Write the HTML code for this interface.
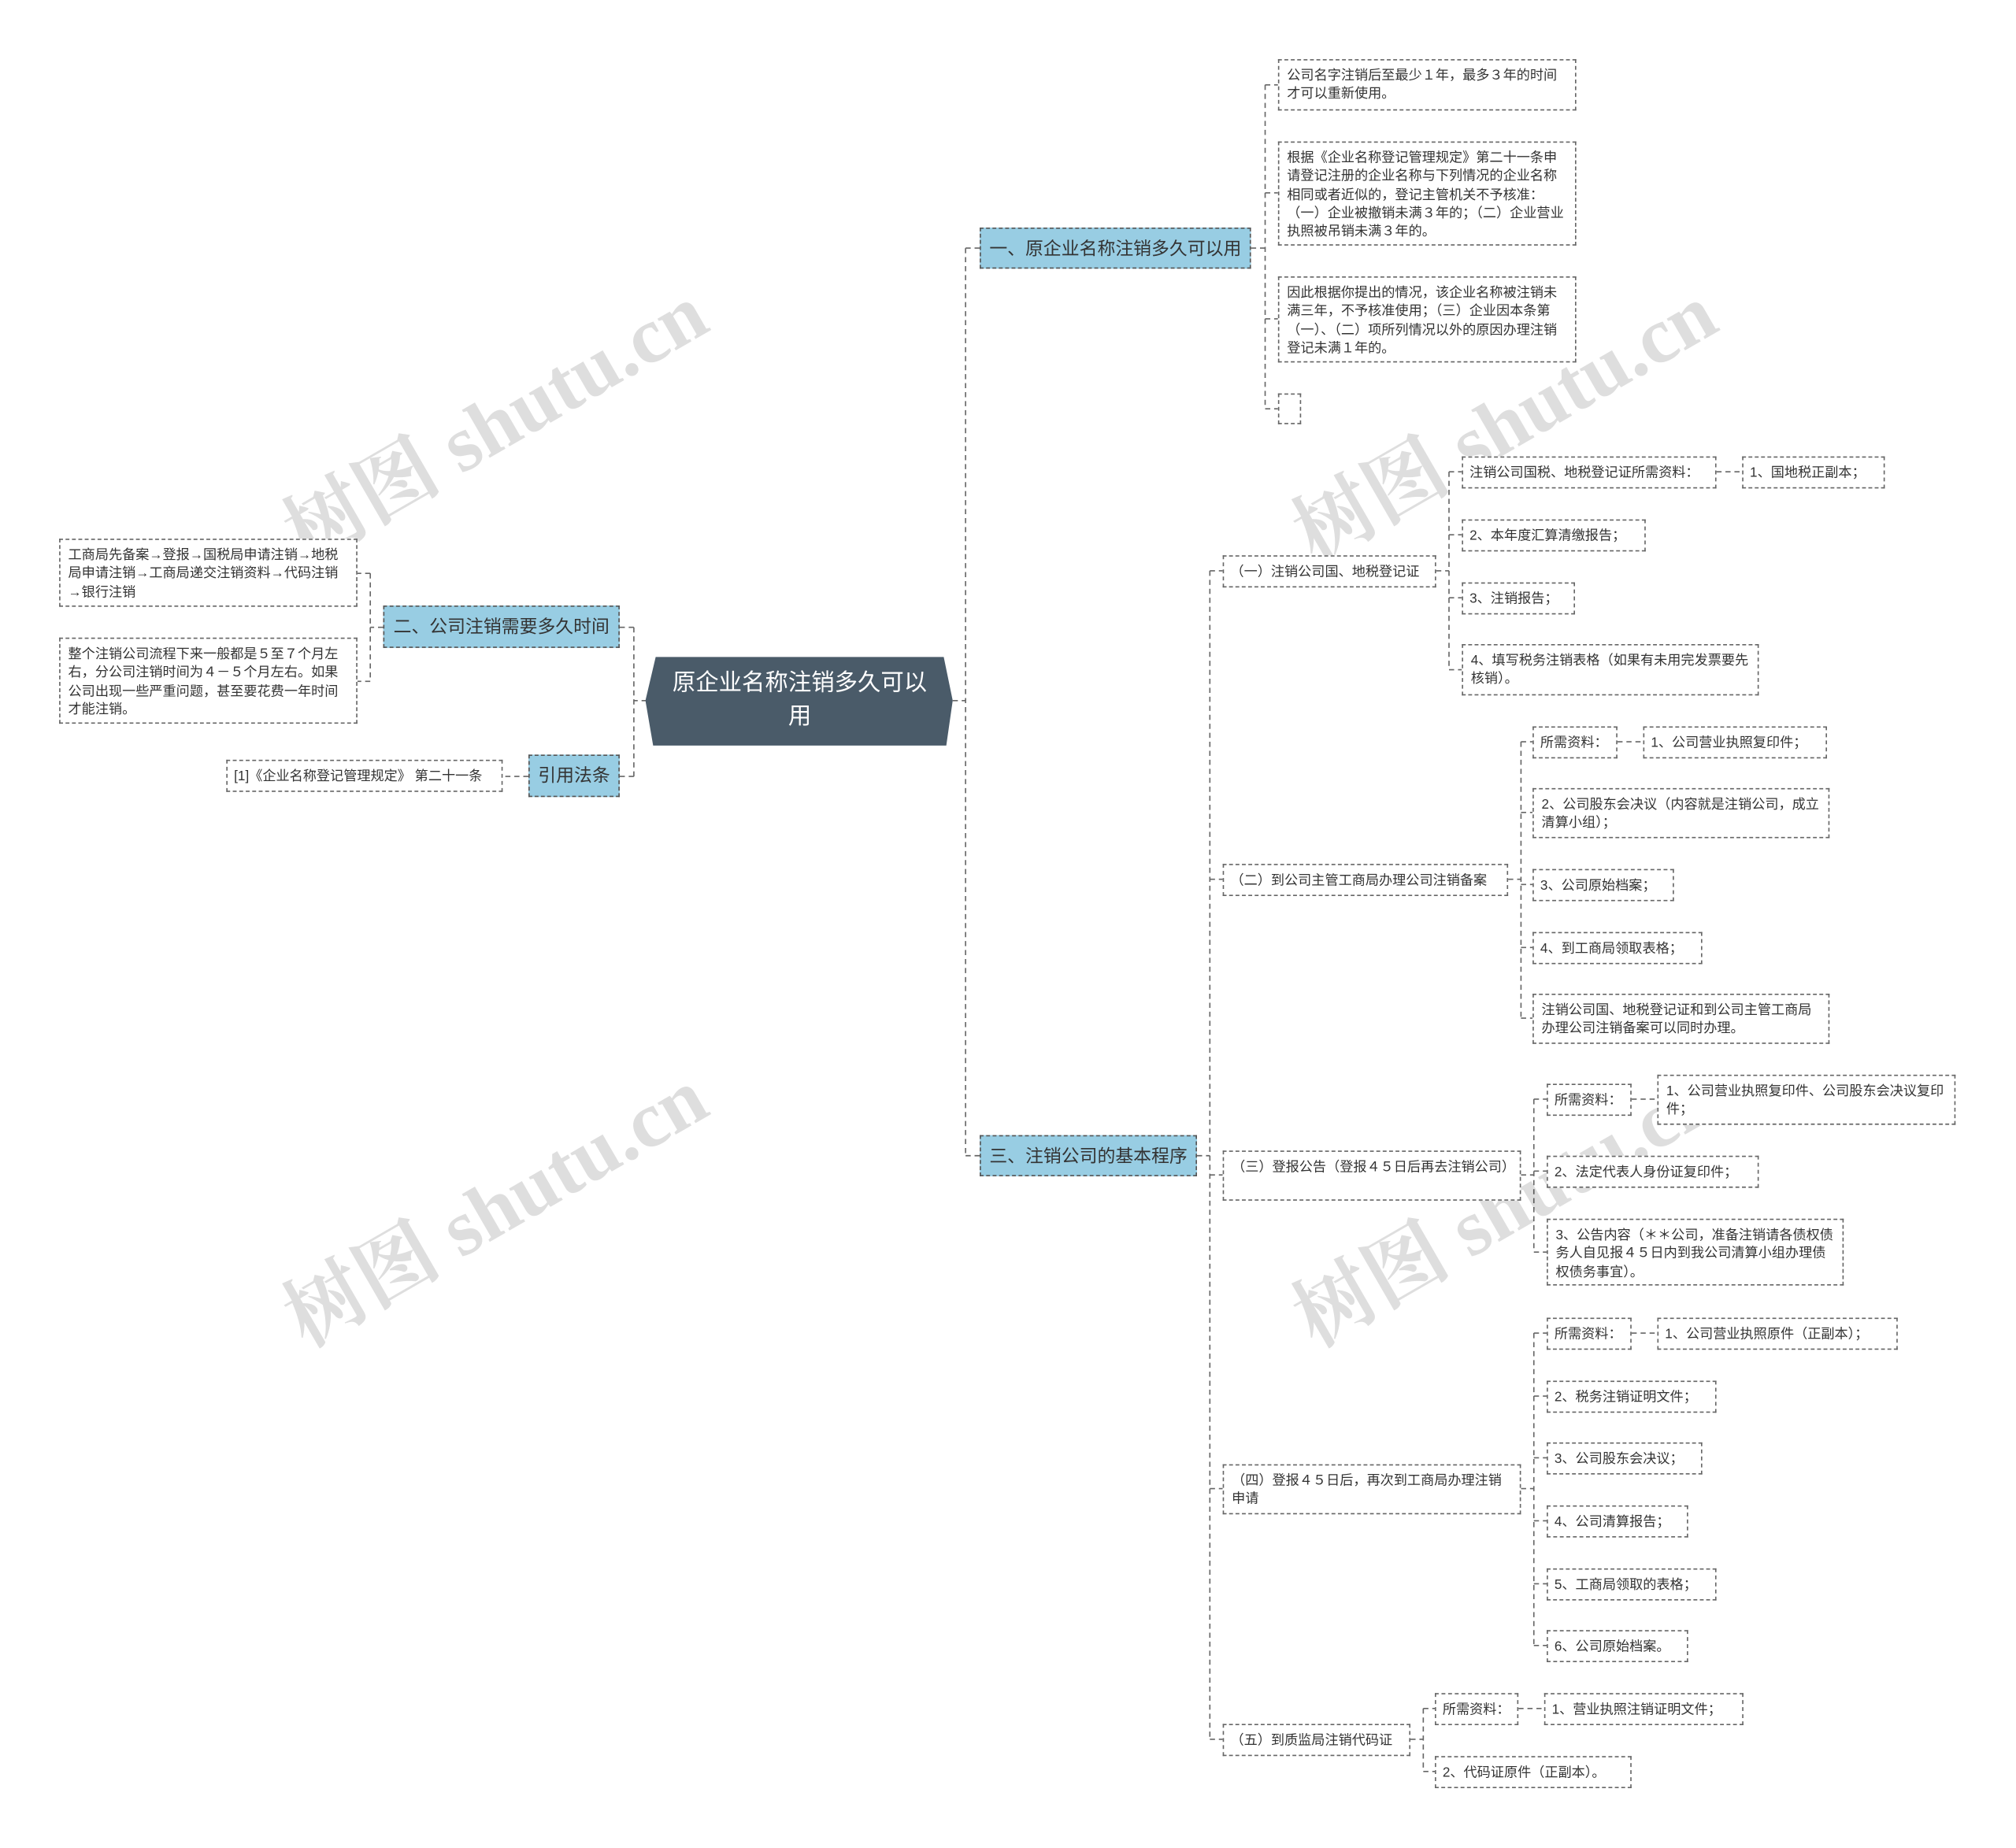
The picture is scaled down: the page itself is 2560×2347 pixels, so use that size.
<!DOCTYPE html>
<html><head><meta charset="utf-8"><style>
html,body{margin:0;padding:0;background:#fff;}
#wrap{position:relative;width:2560px;height:2347px;overflow:hidden;background:#fff;}
#s{position:absolute;left:0;top:0;width:1568px;height:1438px;transform:scale(1.63265);transform-origin:0 0;font-family:"Liberation Sans","Noto Sans CJK SC",sans-serif;}
.n{position:absolute;box-sizing:border-box;border:1px dashed #666;font-size:10.5px;line-height:14.3px;color:#333;padding:5px 6px;background:#fff;white-space:normal;overflow:hidden;}
.s1{padding:5px 5px;white-space:nowrap;}
.l1{position:absolute;box-sizing:border-box;border:1px dashed #555;background:#98cde3;color:#333;font-size:14px;line-height:30px;text-align:center;white-space:nowrap;}
.wm{position:absolute;font-family:"Liberation Serif","Noto Serif CJK SC",serif;font-size:62px;color:rgba(0,0,0,0.13);transform:rotate(-30deg);white-space:nowrap;font-weight:bold;}
</style></head><body><div id="wrap"><div id="s">
<svg width="1568" height="1438" style="position:absolute;left:0;top:0" fill="none" stroke="#666" stroke-width="1" stroke-dasharray="4,3">
<path d="M741 545H751M751 193V899M751 193H762M751 899H762"/>
<path d="M503 545H493M493 488V604M493 488H482M493 604H482"/>
<path d="M298 488H288M288 446V530M288 446H278M288 530H278"/>
<path d="M411 604H391"/>
<path d="M973 193H984M984 66V318M984 66H994M984 150H994M984 248H994M984 318H994"/>
<path d="M931 899H941M941 444V1353M941 444H951M941 684H951M941 914H951M941 1158H951M941 1353H951"/>
<path d="M1117 444H1127M1127 367V521M1127 367H1137M1127 416H1137M1127 465H1137M1127 521H1137M1335 367H1355"/>
<path d="M1173 684H1183M1183 577V792M1183 577H1192M1183 632H1192M1183 688H1192M1183 737H1192M1183 792H1192M1258 577H1278"/>
<path d="M1183 914H1193M1193 855V974M1193 855H1203M1193 911H1203M1193 974H1203M1269 855H1289"/>
<path d="M1183 1158H1193M1193 1037V1280M1193 1037H1203M1193 1086H1203M1193 1134H1203M1193 1183H1203M1193 1232H1203M1193 1280H1203M1269 1037H1289"/>
<path d="M1097 1353H1107M1107 1329V1378M1107 1329H1116M1107 1378H1116M1181 1329H1201"/>
</svg>

<div class="wm" style="left:200px;top:280px">树图 shutu.cn</div>
<div class="wm" style="left:985px;top:280px">树图 shutu.cn</div>
<div class="wm" style="left:200px;top:890px">树图 shutu.cn</div>
<div class="wm" style="left:985px;top:890px">树图 shutu.cn</div>

<svg width="240" height="70" style="position:absolute;left:502px;top:511px"><polygon points="8,0 232,0 239,34 234,69 6,69 0,34" fill="#4a5b69"/></svg>
<div style="position:absolute;left:503px;top:518px;width:238px;text-align:center;color:#fff;font-size:18px;line-height:26px">原企业名称注销多久可以<br>用</div>

<div class="l1" style="left:762px;top:177px;width:211px;height:32px">一、原企业名称注销多久可以用</div>
<div class="l1" style="left:762px;top:883px;width:169px;height:32px">三、注销公司的基本程序</div>
<div class="l1" style="left:298px;top:471px;width:184px;height:33px">二、公司注销需要多久时间</div>
<div class="l1" style="left:411px;top:587px;width:71px;height:33px">引用法条</div>

<div class="n" style="left:46px;top:419px;width:232px;height:53px">工商局先备案→登报→国税局申请注销→地税局申请注销→工商局递交注销资料→代码注销→银行注销</div>
<div class="n" style="left:46px;top:496px;width:232px;height:67px">整个注销公司流程下来一般都是５至７个月左右，分公司注销时间为４－５个月左右。如果公司出现一些严重问题，甚至要花费一年时间才能注销。</div>
<div class="n s1" style="left:176px;top:591px;width:215px;height:25px">[1]《企业名称登记管理规定》 第二十一条</div>

<div class="n" style="left:994px;top:46px;width:232px;height:40px">公司名字注销后至最少１年，最多３年的时间才可以重新使用。</div>
<div class="n" style="left:994px;top:110px;width:232px;height:81px">根据《企业名称登记管理规定》第二十一条申请登记注册的企业名称与下列情况的企业名称相同或者近似的，登记主管机关不予核准：（一）企业被撤销未满３年的；（二）企业营业执照被吊销未满３年的。</div>
<div class="n" style="left:994px;top:215px;width:232px;height:67px">因此根据你提出的情况，该企业名称被注销未满三年，不予核准使用；（三）企业因本条第（一）、（二）项所列情况以外的原因办理注销登记未满１年的。</div>
<div class="n" style="left:994px;top:306px;width:18px;height:24px"></div>

<div class="n s1" style="left:951px;top:432px;width:166px;height:25px">（一）注销公司国、地税登记证</div>
<div class="n s1" style="left:951px;top:672px;width:222px;height:25px">（二）到公司主管工商局办理公司注销备案</div>
<div class="n" style="left:951px;top:895px;width:232px;height:39px">（三）登报公告（登报４５日后再去注销公司）</div>
<div class="n" style="left:951px;top:1139px;width:232px;height:39px">（四）登报４５日后，再次到工商局办理注销申请</div>
<div class="n s1" style="left:951px;top:1341px;width:146px;height:25px">（五）到质监局注销代码证</div>

<div class="n s1" style="left:1137px;top:355px;width:198px;height:25px">注销公司国税、地税登记证所需资料：</div>
<div class="n s1" style="left:1355px;top:355px;width:111px;height:25px">1、国地税正副本；</div>
<div class="n s1" style="left:1137px;top:404px;width:143px;height:25px">2、本年度汇算清缴报告；</div>
<div class="n s1" style="left:1137px;top:453px;width:88px;height:25px">3、注销报告；</div>
<div class="n" style="left:1137px;top:501px;width:231px;height:40px">4、填写税务注销表格（如果有未用完发票要先核销）。</div>

<div class="n s1" style="left:1192px;top:565px;width:66px;height:25px">所需资料：</div>
<div class="n s1" style="left:1278px;top:565px;width:143px;height:25px">1、公司营业执照复印件；</div>
<div class="n" style="left:1192px;top:613px;width:231px;height:39px">2、公司股东会决议（内容就是注销公司，成立清算小组）；</div>
<div class="n s1" style="left:1192px;top:676px;width:110px;height:25px">3、公司原始档案；</div>
<div class="n s1" style="left:1192px;top:725px;width:132px;height:25px">4、到工商局领取表格；</div>
<div class="n" style="left:1192px;top:773px;width:231px;height:39px">注销公司国、地税登记证和到公司主管工商局办理公司注销备案可以同时办理。</div>

<div class="n s1" style="left:1203px;top:843px;width:66px;height:25px">所需资料：</div>
<div class="n" style="left:1289px;top:836px;width:232px;height:39px">1、公司营业执照复印件、公司股东会决议复印件；</div>
<div class="n s1" style="left:1203px;top:899px;width:165px;height:25px">2、法定代表人身份证复印件；</div>
<div class="n" style="left:1203px;top:948px;width:231px;height:52px">3、公告内容（＊＊公司，准备注销请各债权债务人自见报４５日内到我公司清算小组办理债权债务事宜）。</div>

<div class="n s1" style="left:1203px;top:1025px;width:66px;height:25px">所需资料：</div>
<div class="n s1" style="left:1289px;top:1025px;width:187px;height:25px">1、公司营业执照原件（正副本）；</div>
<div class="n s1" style="left:1203px;top:1074px;width:132px;height:25px">2、税务注销证明文件；</div>
<div class="n s1" style="left:1203px;top:1122px;width:121px;height:25px">3、公司股东会决议；</div>
<div class="n s1" style="left:1203px;top:1171px;width:110px;height:25px">4、公司清算报告；</div>
<div class="n s1" style="left:1203px;top:1220px;width:132px;height:25px">5、工商局领取的表格；</div>
<div class="n s1" style="left:1203px;top:1268px;width:110px;height:25px">6、公司原始档案。</div>

<div class="n s1" style="left:1116px;top:1317px;width:65px;height:25px">所需资料：</div>
<div class="n s1" style="left:1201px;top:1317px;width:155px;height:25px">1、营业执照注销证明文件；</div>
<div class="n s1" style="left:1116px;top:1366px;width:153px;height:25px">2、代码证原件（正副本）。</div>
</div></div></body></html>
